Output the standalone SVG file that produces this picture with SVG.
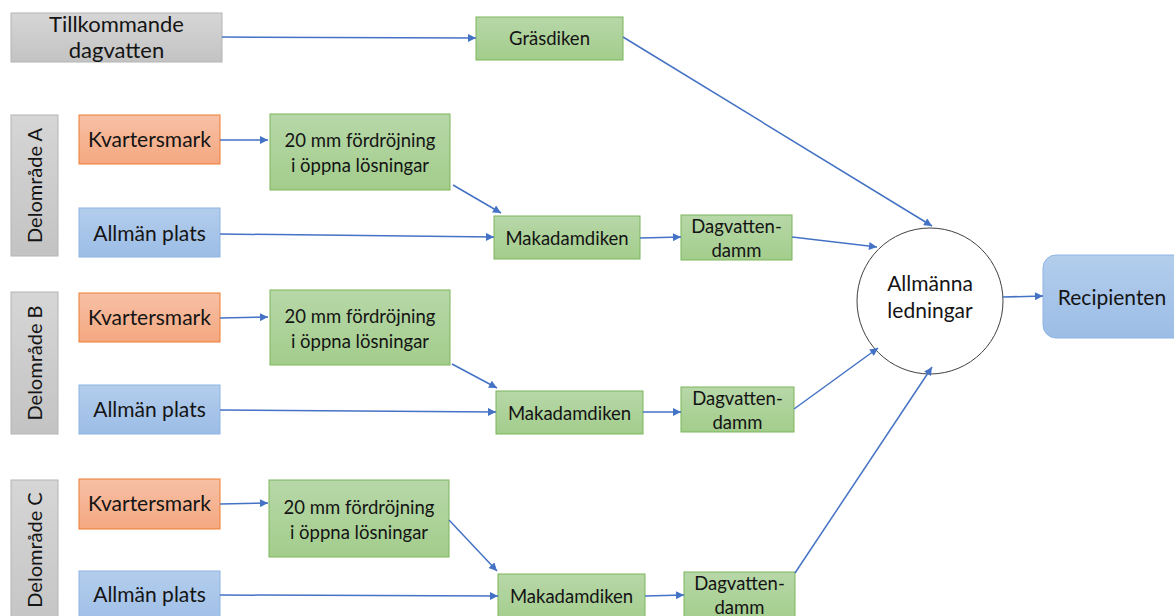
<svg xmlns="http://www.w3.org/2000/svg" width="1174" height="616" viewBox="0 0 1174 616">
<defs>
<linearGradient id="gGray" x1="0" y1="0" x2="0" y2="1"><stop offset="0" stop-color="#d6d6d6"/><stop offset="1" stop-color="#c3c3c3"/></linearGradient>
<linearGradient id="gOrange" x1="0" y1="0" x2="0" y2="1"><stop offset="0" stop-color="#f7c0a6"/><stop offset="1" stop-color="#f4a880"/></linearGradient>
<linearGradient id="gBlue" x1="0" y1="0" x2="0" y2="1"><stop offset="0" stop-color="#b3cdec"/><stop offset="1" stop-color="#9cbde6"/></linearGradient>
<linearGradient id="gGreen" x1="0" y1="0" x2="0" y2="1"><stop offset="0" stop-color="#b7d7a8"/><stop offset="1" stop-color="#a3cd8c"/></linearGradient>
<marker id="arrL" viewBox="0 0 10 10" refX="10" refY="5" markerWidth="9" markerHeight="8" markerUnits="userSpaceOnUse" orient="auto"><path d="M0,0 L10,5 L0,10 z" fill="#4472c4"/></marker>
</defs>
<style>
.gray{fill:url(#gGray);stroke:#b4b4b4;stroke-width:1}
.orange{fill:url(#gOrange);stroke:#ed7d31;stroke-width:1}
.blue{fill:url(#gBlue);stroke:#8fb4e3;stroke-width:1}
.green{fill:url(#gGreen);stroke:#7cb55a;stroke-width:1}
text{font-family:Lato,"Liberation Sans",sans-serif;fill:#141414;text-anchor:middle}
.t22{font-size:22px}
.t21{font-size:21px}
.t20{font-size:20px}
.t18{font-size:18.5px}
.conn line{stroke:#4472c4;stroke-width:1.5;marker-end:url(#arrL)}
</style>

<g id="tillkommande"><rect class="gray" x="11" y="13" width="211" height="49"/><text class="t22" x="116.5" y="32">Tillkommande</text><text class="t22" x="116.5" y="58">dagvatten</text></g>
<g id="grasdiken"><rect class="green" x="476" y="17" width="147" height="43"/><text class="t18" x="549.5" y="45">Gräsdiken</text></g>

<g id="delA"><rect class="gray" x="11" y="115" width="47" height="141"/><text class="t20" transform="translate(41.5,185.5) rotate(-90)">Delområde A</text></g>
<g id="kvA"><rect class="orange" x="79" y="115" width="141" height="49"/><text class="t21" x="149.5" y="147">Kvartersmark</text></g>
<g id="fordrA"><rect class="green" x="270" y="114" width="180" height="76"/><text class="t18" x="360" y="147">20 mm fördröjning</text><text class="t18" x="360" y="172">i öppna lösningar</text></g>
<g id="allmA"><rect class="blue" x="79" y="208" width="141" height="49"/><text class="t21" x="149.5" y="241">Allmän plats</text></g>
<g id="makA"><rect class="green" x="494" y="216" width="146" height="43"/><text class="t18" x="567" y="245">Makadamdiken</text></g>
<g id="dagA"><rect class="green" x="681" y="215" width="111" height="45"/><text class="t18" x="736.5" y="233">Dagvatten-</text><text class="t18" x="736.5" y="257">damm</text></g>

<g id="delB"><rect class="gray" x="11" y="292" width="47" height="142"/><text class="t20" transform="translate(41.5,363) rotate(-90)">Delområde B</text></g>
<g id="kvB"><rect class="orange" x="79" y="293" width="141" height="49"/><text class="t21" x="149.5" y="325">Kvartersmark</text></g>
<g id="fordrB"><rect class="green" x="270" y="290" width="180" height="75"/><text class="t18" x="360" y="323">20 mm fördröjning</text><text class="t18" x="360" y="348">i öppna lösningar</text></g>
<g id="allmB"><rect class="blue" x="79" y="385" width="141" height="49"/><text class="t21" x="149.5" y="417">Allmän plats</text></g>
<g id="makB"><rect class="green" x="496" y="391" width="147" height="43"/><text class="t18" x="569.5" y="420">Makadamdiken</text></g>
<g id="dagB"><rect class="green" x="681" y="387" width="113" height="45"/><text class="t18" x="737.5" y="405">Dagvatten-</text><text class="t18" x="737.5" y="429">damm</text></g>

<g id="delC"><rect class="gray" x="11" y="480" width="47" height="160"/><text class="t20" transform="translate(41.5,550) rotate(-90)">Delområde C</text></g>
<g id="kvC"><rect class="orange" x="79" y="479" width="141" height="50"/><text class="t21" x="149.5" y="511">Kvartersmark</text></g>
<g id="fordrC"><rect class="green" x="269" y="480" width="180" height="77"/><text class="t18" x="359" y="514">20 mm fördröjning</text><text class="t18" x="359" y="539">i öppna lösningar</text></g>
<g id="allmC"><rect class="blue" x="79" y="571" width="141" height="60"/><text class="t21" x="149.5" y="602">Allmän plats</text></g>
<g id="makC"><rect class="green" x="498" y="574" width="147" height="50"/><text class="t18" x="571.5" y="603">Makadamdiken</text></g>
<g id="dagC"><rect class="green" x="684" y="572" width="111" height="50"/><text class="t18" x="739.5" y="590">Dagvatten-</text><text class="t18" x="739.5" y="614">damm</text></g>

<g id="allmanna"><circle cx="930" cy="301" r="73" fill="#ffffff" stroke="#404040" stroke-width="1"/><text class="t21" x="930" y="291">Allmänna</text><text class="t21" x="930" y="318">ledningar</text></g>
<g id="recipienten"><rect class="blue" x="1043" y="255" width="150" height="83" rx="13" ry="13"/><text class="t21" x="1112" y="305">Recipienten</text></g>

<g class="conn">
<line x1="222" y1="37" x2="476" y2="38"/>
<line x1="623" y1="37" x2="932" y2="226"/>
<line x1="220" y1="140" x2="268" y2="140"/>
<line x1="453" y1="185" x2="501" y2="213"/>
<line x1="220" y1="234" x2="494" y2="237"/>
<line x1="640" y1="238" x2="681" y2="237"/>
<line x1="792" y1="237" x2="877" y2="247"/>
<line x1="220" y1="318" x2="268" y2="317"/>
<line x1="452" y1="364" x2="497" y2="388"/>
<line x1="220" y1="410" x2="496" y2="412"/>
<line x1="643" y1="412" x2="681" y2="412"/>
<line x1="794" y1="409" x2="878" y2="348"/>
<line x1="220" y1="504" x2="268" y2="503"/>
<line x1="449" y1="520" x2="497" y2="571"/>
<line x1="220" y1="595" x2="498" y2="596"/>
<line x1="645" y1="596" x2="684" y2="595"/>
<line x1="795" y1="573" x2="932" y2="367"/>
<line x1="1003" y1="297" x2="1043" y2="296"/>
</g>
</svg>
